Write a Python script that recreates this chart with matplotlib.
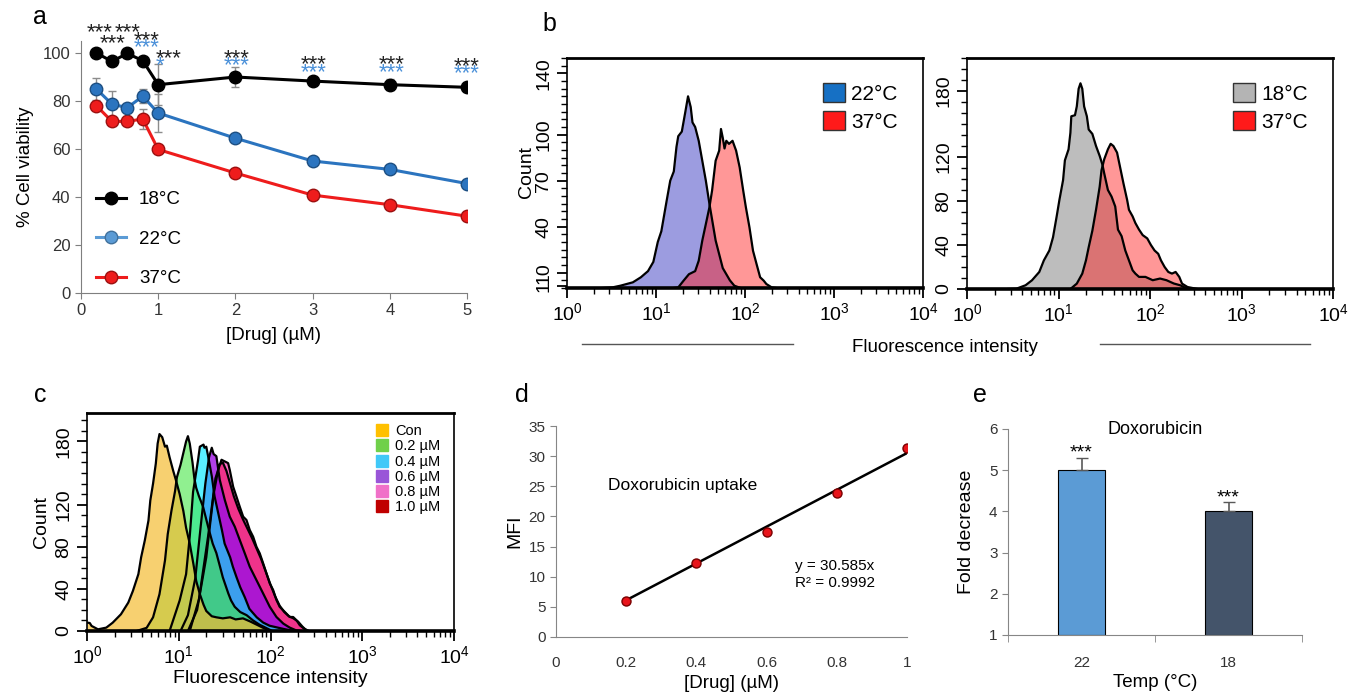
import numpy as np
import matplotlib
matplotlib.use("Agg")
import matplotlib.pyplot as plt
from matplotlib.lines import Line2D
from matplotlib.ticker import MultipleLocator, FixedLocator, NullFormatter

plt.rcParams['font.family'] = ['Liberation Sans', 'DejaVu Sans']

# ---------------- data ----------------
# a: cell viability vs drug
drug = [0.2, 0.4, 0.6, 0.8, 1, 2, 3, 4, 5]
via_18 = [100, 96.5, 99.8, 96.8, 86.8, 90.0, 88.3, 86.8, 85.7]
via_22 = [85.0, 78.7, 77.2, 82.0, 75.0, 64.5, 55.0, 51.5, 45.6]
via_37 = [78.0, 71.5, 71.5, 72.5, 59.8, 50.0, 40.8, 36.8, 32.0]
err_18 = [0.5, 1, 0.5, 1, 8.6, 4.2, 0.8, 2.2, 0.5]
err_22 = [4.5, 5.5, 1, 3, 8, 1, 1, 1, 1]
err_37 = [1, 1, 1, 4, 1, 1, 1, 1, 1]

# b: flow histograms (log10 intensity, count)
b22_lx = [0.40, 0.51, 0.60, 0.74, 0.83, 0.91, 0.97, 1.02, 1.06, 1.12, 1.16, 1.20, 1.23, 1.25, 1.29,
          1.33, 1.36, 1.39, 1.41, 1.44, 1.48, 1.52, 1.56, 1.60, 1.67, 1.75, 1.83, 1.88, 1.95]
b22_ct = [0, 0.4, 1.5, 3.7, 7, 11, 17, 30, 37, 57, 70, 76, 92, 99, 102,
          115, 125, 118, 108, 105, 96, 83, 70, 55, 31, 13, 5, 1.5, 0]
b37a_lx = [1.20, 1.25, 1.31, 1.37, 1.44, 1.48, 1.52, 1.56, 1.60, 1.63, 1.67, 1.71, 1.73, 1.75, 1.77,
           1.79, 1.82, 1.86, 1.90, 1.94, 1.98, 2.01, 2.05, 2.09, 2.13, 2.17, 2.21, 2.24, 2.30, 2.35]
b37a_ct = [0, 0.4, 4.8, 9, 11, 17.8, 30.9, 41.7, 52.6, 63.5, 83, 89.6, 103.7, 98, 91,
           96, 94, 96, 89.6, 78.7, 63.5, 52.6, 39.6, 24.3, 15.6, 7, 4.8, 2.6, 0.4, 0]
b18_lx = [0.45, 0.54, 0.64, 0.71, 0.79, 0.84, 0.90, 0.94, 0.98, 1.01, 1.05, 1.07, 1.11, 1.13, 1.14,
          1.18, 1.20, 1.22, 1.24, 1.26, 1.28, 1.31, 1.33, 1.37, 1.41, 1.45, 1.48, 1.50, 1.54, 1.58,
          1.62, 1.65, 1.69, 1.73, 1.77, 1.81, 1.84, 1.88, 1.95, 2.03, 2.11, 2.18, 2.26, 2.33, 2.39, 2.45]
b18_ct = [0, 0.3, 3.4, 7.9, 15.5, 26, 35, 47, 66, 81, 99, 117, 127, 142, 157,
          158, 166, 182, 187, 182, 166, 157, 145, 141, 130, 121, 113, 105, 90, 84,
          75, 54, 48, 35, 26, 17, 14, 11, 11, 8, 9.5, 8, 5, 3.4, 1, 0]
b37b_lx = [1.13, 1.20, 1.26, 1.30, 1.33, 1.37, 1.41, 1.45, 1.47, 1.50, 1.54, 1.57, 1.60, 1.64, 1.67,
           1.71, 1.75, 1.77, 1.81, 1.84, 1.88, 1.92, 1.97, 2.01, 2.05, 2.09, 2.12, 2.16, 2.20, 2.24,
           2.28, 2.32, 2.35, 2.41, 2.52]
b37b_ct = [0, 4.9, 14, 26, 38, 53, 72, 93, 108, 118, 127, 132, 130, 124, 112,
           96, 81, 72, 66, 60, 54, 49, 46, 40, 35, 32, 26, 20, 15.5, 14,
           15.5, 11, 4.9, 1.8, 0]

# c: dose series histograms
c_labels = ['Con', '0.2 µM', '0.4 µM', '0.6 µM', '0.8 µM', '1.0 µM']
con_lx = [0.0, 0.03, 0.05, 0.12, 0.21, 0.28, 0.37, 0.45, 0.50, 0.56, 0.59, 0.63, 0.67, 0.69, 0.72,
          0.75, 0.77, 0.79, 0.82, 0.85, 0.87, 0.90, 0.94, 0.97, 1.01, 1.05, 1.08, 1.12, 1.16, 1.19,
          1.23, 1.27, 1.30, 1.36, 1.41, 1.48, 1.56, 1.62, 1.70, 1.78, 1.85, 1.92, 2.0]
con_ct = [8, 7.6, 4.8, 1.6, 3.2, 7.9, 15.9, 27, 38, 54, 70, 86, 105, 124, 140,
          159, 178, 187, 184, 175, 176, 165, 152, 143, 130, 114, 98, 83, 63.5, 47.6,
          35, 25, 19, 14, 13, 12, 13, 11, 12, 9, 6, 3, 0]
d02_lx = [0.54, 0.65, 0.72, 0.79, 0.85, 0.88, 0.92, 0.96, 0.98, 1.02, 1.05, 1.08, 1.10, 1.12, 1.15,
          1.17, 1.19, 1.22, 1.265, 1.32, 1.37, 1.41, 1.45, 1.48, 1.54, 1.57, 1.61, 1.67, 1.74, 1.81,
          1.88, 1.95, 2.02]
d02_ct = [0, 3, 13, 35, 67, 92, 114, 133, 146, 158, 169, 180, 185, 178, 160,
          145, 136, 128, 118, 99, 83, 74, 61, 51, 35.7, 29, 23, 18, 15, 10,
          6, 3, 0]
d04_lx = [0.90, 1.01, 1.08, 1.12, 1.156, 1.21, 1.23, 1.27, 1.28, 1.30, 1.32, 1.36, 1.39, 1.43, 1.47,
          1.50, 1.56, 1.59, 1.63, 1.67, 1.72, 1.77, 1.85, 1.92, 1.99, 2.14, 2.25]
d04_ct = [0, 29, 54, 90, 132, 162, 175, 177, 174, 175, 166, 147, 128, 112, 96,
          83, 70, 61, 51, 41.6, 32, 21, 13, 8, 5, 2, 0]
d06_lx = [1.02, 1.10, 1.18, 1.24, 1.29, 1.33, 1.36, 1.38, 1.41, 1.447, 1.502, 1.556, 1.611, 1.665,
          1.72, 1.774, 1.847, 1.92, 1.992, 2.065, 2.14, 2.21, 2.28, 2.33]
d06_ct = [0, 15, 50, 100, 140, 165, 174, 168, 166, 143.5, 124.4, 108.6, 99, 86.4,
          73.7, 61, 48.3, 35.6, 23, 13.3, 7, 3.2, 0.6, 0]
d08_lx = [1.12, 1.22, 1.32, 1.40, 1.466, 1.502, 1.538, 1.556, 1.593, 1.629, 1.665, 1.702, 1.738,
          1.774, 1.811, 1.847, 1.883, 1.92, 1.956, 1.992, 2.029, 2.065, 2.10, 2.138, 2.174, 2.21,
          2.247, 2.283, 2.32, 2.37, 2.42]
d08_ct = [0, 30, 90, 145, 162.6, 161, 159.4, 153, 137, 127.6, 118, 108.6, 105.4,
          95.9, 89.5, 80, 73.7, 64.2, 54.7, 45.2, 38.9, 29.4, 23, 19.7, 16.5, 13.3,
          13.3, 10.2, 5.4, 2, 0]
d10_lx = [1.10, 1.20, 1.30, 1.38, 1.44, 1.48, 1.52, 1.56, 1.60, 1.65, 1.70, 1.75, 1.80, 1.85, 1.90,
          1.95, 2.00, 2.05, 2.10, 2.15, 2.20, 2.25, 2.30, 2.35, 2.40]
d10_ct = [0, 20, 70, 130, 158, 160, 152, 140, 128, 116, 106, 97, 88, 78, 68,
          56, 44, 33, 24, 18, 14, 12, 9, 4, 0]

# d: uptake vs drug
d_drug = [0.2, 0.4, 0.6, 0.8, 1.0]
d_mfi = [5.9, 12.3, 17.5, 23.9, 31.4]

# e: fold decrease
e_temp = ['22', '18']
e_fold = [5.0, 4.0]
e_err = [0.3, 0.23]

# ---------------- figure ----------------
W, H = 1353, 696
fig = plt.figure(figsize=(W / 100, H / 100), dpi=100)


def rect(l, t, r, b):
    return [l / W, 1 - b / H, (r - l) / W, (b - t) / H]


# ---- a
ax = fig.add_axes(rect(81, 41, 467, 293))
cols = {'18': 'black', '22': '#2b74bf', '37': '#ee1c1c'}
for y, e, c in [(via_18, err_18, cols['18']), (via_22, err_22, cols['22']), (via_37, err_37, cols['37'])]:
    ax.errorbar(drug, y, yerr=e, fmt='none', ecolor='#8c8c8c', elinewidth=1, capsize=3, zorder=1)
for y, c, ec in [(via_37, cols['37'], '#9c1010'), (via_22, cols['22'], '#1d4f82'), (via_18, cols['18'], 'black')]:
    ax.plot(drug, y, color=c, lw=2.2, marker='o', ms=9, mfc=c, mec=ec, mew=1, zorder=3)
ax.set_xlim(0, 5)
ax.set_ylim(0, 105)
ax.set_xticks(range(6))
ax.set_yticks(range(0, 101, 20))
for s in ['top', 'right']:
    ax.spines[s].set_visible(False)
for s in ['left', 'bottom']:
    ax.spines[s].set_color('#7f7f7f')
ax.tick_params(direction='out', length=4, color='#7f7f7f', labelsize=12, labelcolor='#333333')
ax.set_xlabel('[Drug] (µM)', fontsize=13.5, labelpad=6)
ax.set_ylabel('% Cell viability', fontsize=13.5, labelpad=6)
handles = [Line2D([], [], color='black', lw=2.2, marker='o', ms=9, mec='black'),
           Line2D([], [], color='#5b9bd5', lw=2.2, marker='o', ms=9, mfc='#5b9bd5', mec='#41719c'),
           Line2D([], [], color='#ee1c1c', lw=2.2, marker='o', ms=9, mec='#9c1010')]
ax.legend(handles, ['18°C', '22°C', '37°C'], loc='lower left', bbox_to_anchor=(-0.005, -0.045),
          frameon=False, fontsize=13.5, labelspacing=1.2, handlelength=1.6, handletextpad=0.7)
# significance marks (x, y centre of the star group)
stars_k = [(0.24, 110.3), (0.61, 110.3), (0.41, 105.7), (0.85, 106.8), (1.14, 99.5),
           (2.01, 99.3), (3.01, 96.7), (4.03, 96.7), (5.0, 96.0)]
stars_b = [(0.85, 103.8, '***'), (1.02, 96.4, '*'), (2.01, 96.3, '***'), (3.01, 93.6, '***'),
           (4.03, 93.6, '***'), (5.0, 93.0, '***')]
for x, y in stars_k:
    ax.text(x, y - 4.0, '***', ha='center', va='baseline', fontsize=16, color='#222222', clip_on=False)
for x, y, t in stars_b:
    ax.text(x, y - 4.0, t, ha='center', va='baseline', fontsize=16, color='#4a90d9', clip_on=False)


# ---- b / c helpers
def flow_axes(r, ymax):
    a = fig.add_axes(r)
    a.set_xscale('log')
    a.set_xlim(1, 1e4)
    a.set_ylim(0, ymax)
    a.spines['bottom'].set_linewidth(2.6)
    a.spines['top'].set_linewidth(2.0)
    a.spines['left'].set_linewidth(1.2)
    a.spines['right'].set_linewidth(1.2)
    a.tick_params(which='major', direction='out', length=7, width=1.3, labelsize=14)
    a.tick_params(which='minor', direction='out', length=4, width=1.0)
    a.xaxis.set_minor_formatter(NullFormatter())
    return a


def hist(a, lx, ct, fc, alpha, lw=1.6, ec='black'):
    x = 10 ** np.array(lx)
    a.fill_between(x, ct, 0, color=fc, alpha=alpha, lw=0)
    a.plot(x, ct, color=ec, lw=lw)


b1 = flow_axes(rect(567, 58, 923, 288), 150)
hist(b1, b22_lx, b22_ct, '#9c9ce0', 1.0)
hist(b1, b37a_lx, b37a_ct, '#ff1a1a', 0.45)
b1.yaxis.set_major_locator(FixedLocator([1, 10, 40, 70, 100, 140]))
b1.yaxis.set_minor_locator(MultipleLocator(5))
for t in b1.get_yticklabels():
    t.set_rotation(90)
    t.set_va('center')
b1.legend(handles=[plt.Rectangle((0, 0), 1, 1, fc='#1670c4', ec='#333333'),
                   plt.Rectangle((0, 0), 1, 1, fc='#ff1a1a', ec='#333333')],
          labels=['22°C', '37°C'], loc='upper right', frameon=False, fontsize=15,
          handlelength=1.05, handleheight=1.05, handletextpad=0.3, labelspacing=0.35,
          borderaxespad=0.8)

b2 = flow_axes(rect(967, 58, 1333, 289), 210)
hist(b2, b18_lx, b18_ct, '#bdbdbd', 1.0)
hist(b2, b37b_lx, b37b_ct, '#ff1a1a', 0.45)
b2.yaxis.set_major_locator(FixedLocator([0, 40, 80, 120, 180]))
b2.yaxis.set_minor_locator(MultipleLocator(10))
for t in b2.get_yticklabels():
    t.set_rotation(90)
    t.set_va('center')
b2.legend(handles=[plt.Rectangle((0, 0), 1, 1, fc='#b4b4b4', ec='#333333'),
                   plt.Rectangle((0, 0), 1, 1, fc='#ff1a1a', ec='#333333')],
          labels=['18°C', '37°C'], loc='upper right', frameon=False, fontsize=15,
          handlelength=1.05, handleheight=1.05, handletextpad=0.3, labelspacing=0.35,
          borderaxespad=0.8)

fig.text(527 / W, 1 - 172 / H, 'Count', rotation=90, ha='center', va='center', fontsize=14)
fig.text(945 / W, 1 - 347 / H, 'Fluorescence intensity', ha='center', va='center', fontsize=13.5)
for x0, x1 in [(582, 793), (1100, 1310)]:
    fig.add_artist(Line2D([x0 / W, x1 / W], [1 - 344 / H] * 2, color='#555555', lw=1))

# ---- c
c = flow_axes(rect(87, 413, 454, 631), 207)
c_fill = ['#f5bc33', '#46e646', '#00e9ff', '#9c10e2', '#ff33b0', '#c00000']
c_leg = ['#ffc000', '#70d04a', '#40c8f8', '#9955d8', '#f070c8', '#c00000']
series = [(con_lx, con_ct), (d02_lx, d02_ct), (d04_lx, d04_ct),
          (d06_lx, d06_ct), (d08_lx, d08_ct), (d10_lx, d10_ct)]
alphas = [0.7, 0.6, 0.65, 0.8, 0.7, 0.8]
for i in range(5, -1, -1):
    hist(c, series[i][0], series[i][1], c_fill[i], alphas[i], lw=1.6)
c.yaxis.set_major_locator(FixedLocator([0, 40, 80, 120, 180]))
c.yaxis.set_minor_locator(MultipleLocator(10))
for t in c.get_yticklabels():
    t.set_rotation(90)
    t.set_va('center')
c.set_xlabel('Fluorescence intensity', fontsize=14, labelpad=2)
c.set_ylabel('Count', fontsize=14, labelpad=4)
c_handles = [Line2D([], [], ls='none', marker='s', ms=8.5, color=col) for col in c_leg]
c.legend(c_handles, c_labels, loc='upper right', bbox_to_anchor=(0.99, 0.995), frameon=False,
         fontsize=10.5, handlelength=0.8, handletextpad=0.45, labelspacing=0.08, borderaxespad=0.3)

# ---- d
d = fig.add_axes(rect(556, 426, 907, 637))
slope = sum(x * y for x, y in zip(d_drug, d_mfi)) / sum(x * x for x in d_drug)
xs = np.array([d_drug[0], d_drug[-1]])
d.plot(xs, slope * xs, color='black', lw=1.8, zorder=2)
d.plot(d_drug, d_mfi, ls='none', marker='o', ms=6.5, mfc='#e8141b', mec='#7a0000', zorder=3)
d.set_xlim(0, 1)
d.set_ylim(0, 35)
d.set_xticks([0, 0.2, 0.4, 0.6, 0.8, 1])
d.set_xticklabels(['0', '0.2', '0.4', '0.6', '0.8', '1'])
d.set_yticks(range(0, 36, 5))
for s in ['top', 'right']:
    d.spines[s].set_visible(False)
for s in ['left', 'bottom']:
    d.spines[s].set_color('#868686')
d.tick_params(axis='y', direction='out', length=4, color='#868686', labelsize=11, labelcolor='#333333')
d.tick_params(axis='x', length=0, pad=14, labelsize=11, labelcolor='#333333')
d.set_xlabel('[Drug] (µM)', fontsize=13.5, labelpad=3)
d.set_ylabel('MFI', fontsize=14, labelpad=4)
d.text(0.36, 25.2, 'Doxorubicin uptake', ha='center', va='center', fontsize=12.5)
d.text(0.68, 11.8, 'y = 30.585x', ha='left', va='center', fontsize=11)
d.text(0.68, 9.0, 'R² = 0.9992', ha='left', va='center', fontsize=11)

# ---- e
e = fig.add_axes(rect(1008, 429, 1302, 635))
xpos = np.arange(len(e_temp))
e.bar(xpos, [v - 1 for v in e_fold], bottom=1, width=0.32, color=['#5b9bd5', '#44546a'],
      edgecolor='black', lw=0.8, zorder=2)
e.errorbar(xpos, e_fold, yerr=[[0, 0], e_err], fmt='none', ecolor='#595959', elinewidth=1.2,
           capsize=4, zorder=3)
for x, v, er in zip(xpos, e_fold, e_err):
    e.text(x, v + er - 0.1, '***', ha='center', va='bottom', fontsize=14)
e.set_xlim(-0.5, 1.5)
e.set_ylim(1, 6)
e.set_xticks(xpos)
e.set_xticklabels(e_temp)
e.xaxis.set_minor_locator(FixedLocator([-0.5, 0.5, 1.5]))
e.tick_params(axis='x', which='major', length=0, pad=15, labelsize=11, labelcolor='#333333')
e.tick_params(axis='x', which='minor', direction='out', length=5, color='#868686')
e.tick_params(axis='y', direction='out', length=4, color='#868686', labelsize=11, labelcolor='#333333')
for s in ['top', 'right']:
    e.spines[s].set_visible(False)
for s in ['left', 'bottom']:
    e.spines[s].set_color('#868686')
e.set_xlabel('Temp (°C)', fontsize=13.5, labelpad=3)
e.set_ylabel('Fold decrease', fontsize=14, labelpad=10)
e.text(0.5, 5.98, 'Doxorubicin', ha='center', va='center', fontsize=13)

# panel letters
for lab, x, y in [('a', 40, 17), ('b', 549, 24), ('c', 40, 395), ('d', 522, 395), ('e', 980, 395)]:
    fig.text(x / W, 1 - y / H, lab, ha='center', va='center', fontsize=18)

fig.savefig('out.png', dpi=100, facecolor='white')
